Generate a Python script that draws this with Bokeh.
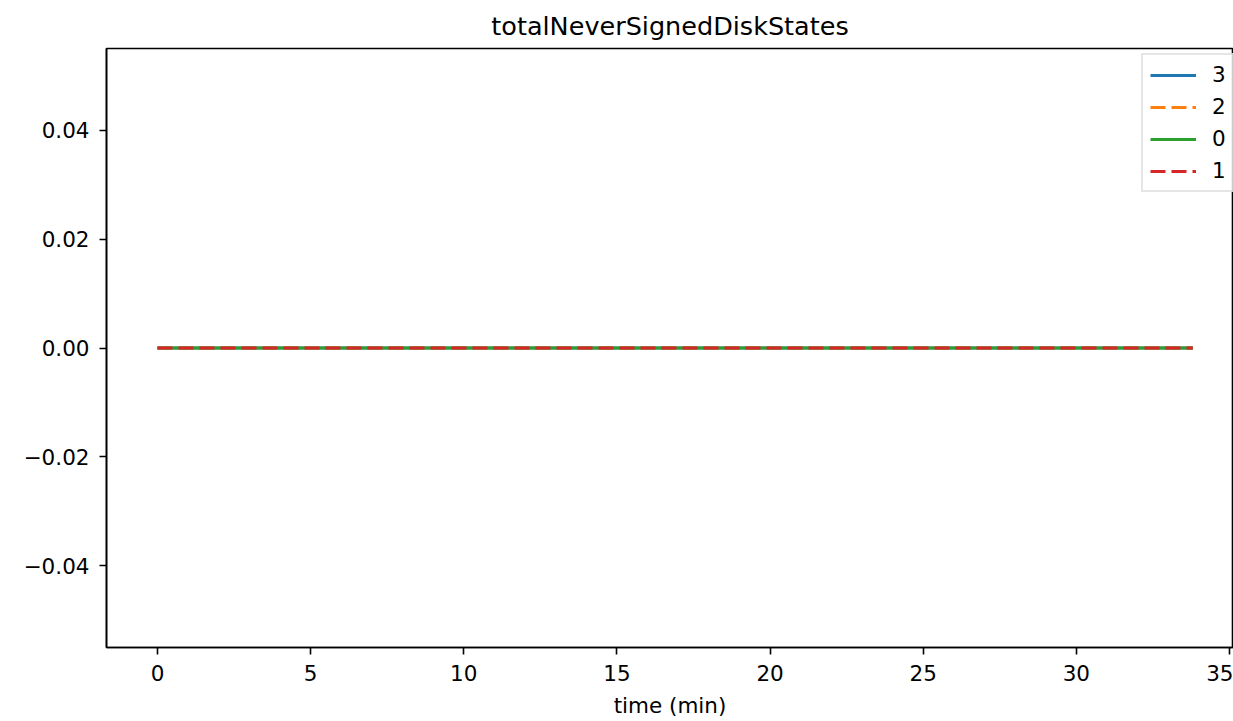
from bokeh.plotting import figure
from bokeh.models import Range1d, FixedTicker, CustomJSTickFormatter, Legend, LegendItem
from bokeh.embed import file_html
from bokeh.resources import INLINE

# ---- data ----
time_min = [0.0, 5.0, 10.0, 15.0, 20.0, 25.0, 30.0, 33.8]
series_3 = [0.0, 0.0, 0.0, 0.0, 0.0, 0.0, 0.0, 0.0]
series_2 = [0.0, 0.0, 0.0, 0.0, 0.0, 0.0, 0.0, 0.0]
series_0 = [0.0, 0.0, 0.0, 0.0, 0.0, 0.0, 0.0, 0.0]
series_1 = [0.0, 0.0, 0.0, 0.0, 0.0, 0.0, 0.0, 0.0]
legend_labels = ["3", "2", "0", "1"]
x_ticks = [0, 5, 10, 15, 20, 25, 30, 35]
y_ticks = [-0.04, -0.02, 0.0, 0.02, 0.04]

FONT = "DejaVu Sans"

p = figure(width=1233, height=721, output_backend="svg", toolbar_location=None,
           x_range=Range1d(-1.665, 35.13), y_range=Range1d(-0.055, 0.055),
           min_border_left=106, min_border_right=0, min_border_top=48, min_border_bottom=74)

p.title.text = "totalNeverSignedDiskStates"
p.title.text_font = FONT
p.title.text_font_size = "25.5px"
p.title.text_font_style = "normal"
p.title.text_color = "black"
p.title.align = "center"
p.title.standoff = 15

p.xgrid.visible = False
p.ygrid.visible = False
p.outline_line_color = "black"
p.outline_line_width = 1.6
p.outline_line_alpha = 1.0

for ax in (p.xaxis, p.yaxis):
    ax.major_tick_out = 7
    ax.major_tick_in = 0
    ax.minor_tick_out = 0
    ax.minor_tick_in = 0
    ax.axis_line_width = 1.6
    ax.axis_line_color = "black"
    ax.major_tick_line_width = 1.6
    ax.major_tick_line_color = "black"
    ax.major_label_text_font = FONT
    ax.major_label_text_font_size = "21.5px"
    ax.major_label_text_color = "black"
    ax.major_label_standoff = 10

p.xaxis.ticker = FixedTicker(ticks=x_ticks)
p.yaxis.ticker = FixedTicker(ticks=y_ticks)
p.xaxis.formatter = CustomJSTickFormatter(code="return tick.toFixed(0);")
p.yaxis.formatter = CustomJSTickFormatter(
    code="return (tick < -1e-12 ? '\u2212' : '') + Math.abs(tick).toFixed(2);")

p.xaxis.axis_label = "time (min)"
p.xaxis.axis_label_text_font = FONT
p.xaxis.axis_label_text_font_size = "21.5px"
p.xaxis.axis_label_text_font_style = "normal"
p.xaxis.axis_label_text_color = "black"
p.xaxis.axis_label_standoff = 9

colors = ["#1f77b4", "#ff7f0e", "#2ca02c", "#d62728"]
dashes = ["solid", "15 6", "solid", "15 6"]
all_series = [series_3, series_2, series_0, series_1]

renderers = []
for ys, c, d in zip(all_series, colors, dashes):
    r = p.line(time_min, ys, line_color=c, line_width=3, line_dash=d)
    renderers.append(r)

legend = Legend(items=[LegendItem(label=lab, renderers=[r]) for lab, r in zip(legend_labels, renderers)],
                location=(1035, 455))
legend.label_text_font = FONT
legend.label_text_font_size = "21.5px"
legend.label_text_color = "black"
legend.glyph_width = 46
legend.glyph_height = 20
legend.label_standoff = 16
legend.label_height = 24
legend.label_width = 13
legend.spacing = 7
legend.padding = 7
legend.border_line_color = "#cccccc"
legend.border_line_width = 2
legend.background_fill_alpha = 0.8
p.add_layout(legend)

open("out.html", "w").write(file_html(p, INLINE))
